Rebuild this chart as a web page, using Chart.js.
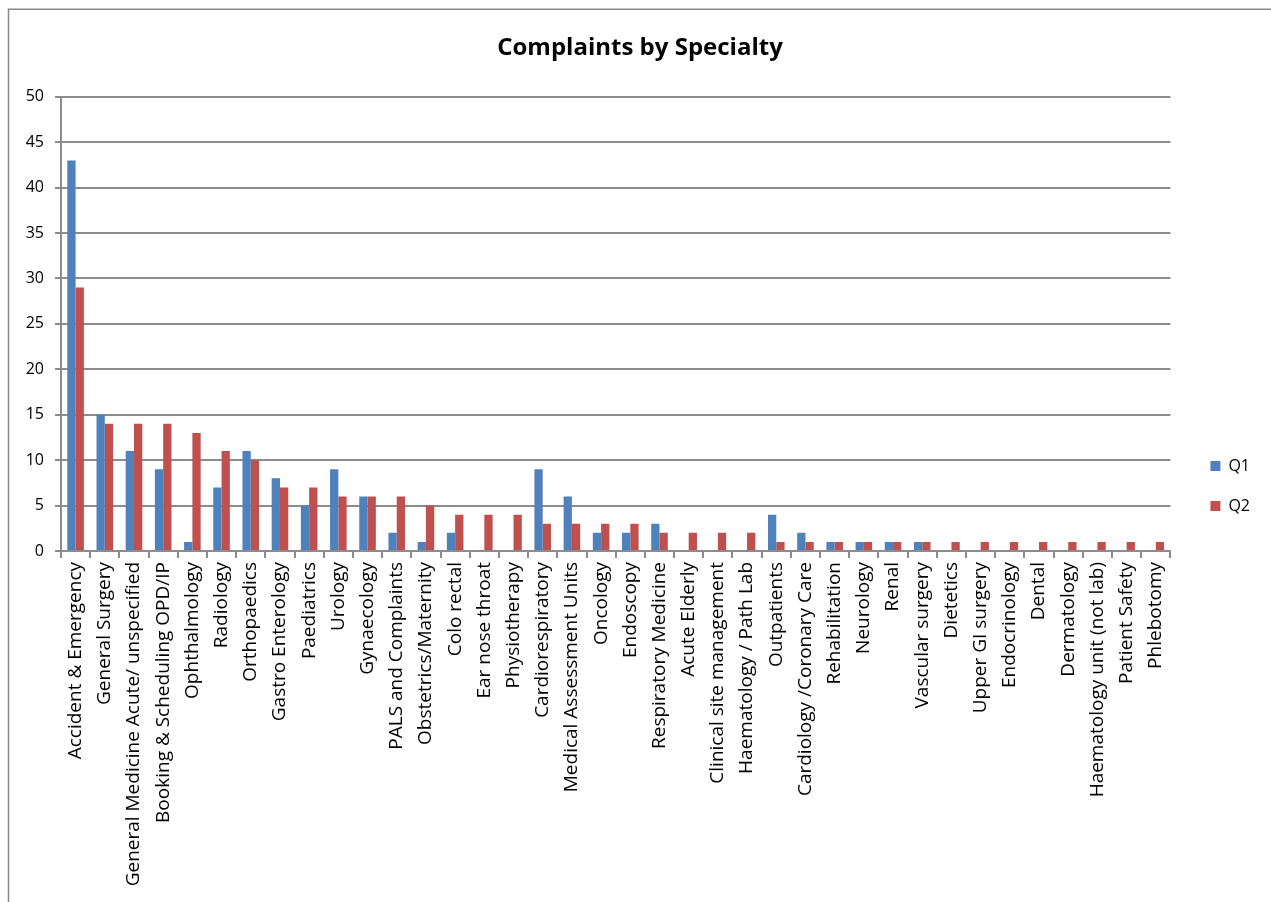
<!DOCTYPE html>
<html>
<head>
<meta charset="utf-8">
<script src="https://cdn.jsdelivr.net/npm/chart.js@4.4.1/dist/chart.umd.min.js"></script>
<style>
  html, body { margin: 0; padding: 0; background: #ffffff; overflow: hidden; }
  #wrap { width: 1271px; height: 902px; }
</style>
</head>
<body>
<div id="wrap"><canvas id="c" width="1271" height="902"></canvas></div>
<script>
const categories = [
  "Accident & Emergency", "General Surgery", "General Medicine Acute/ unspecified",
  "Booking & Scheduling OPD/IP", "Ophthalmology", "Radiology", "Orthopaedics",
  "Gastro Enterology", "Paediatrics", "Urology", "Gynaecology", "PALS and Complaints",
  "Obstetrics/Maternity", "Colo rectal", "Ear nose throat", "Physiotherapy",
  "Cardiorespiratory", "Medical Assessment Units", "Oncology", "Endoscopy",
  "Respiratory Medicine", "Acute Elderly", "Clinical site management",
  "Haematology / Path Lab", "Outpatients", "Cardiology /Coronary Care",
  "Rehabilitation", "Neurology", "Renal", "Vascular surgery", "Dietetics",
  "Upper GI surgery", "Endocrinology", "Dental", "Dermatology",
  "Haematology unit (not lab)", "Patient Safety", "Phlebotomy"
];
const q1Values = [43, 15, 11, 9, 1, 7, 11, 8, 5, 9, 6, 2, 1, 2, 0, 0, 9, 6, 2, 2, 3, 0, 0, 0, 4, 2, 1, 1, 1, 1, 0, 0, 0, 0, 0, 0, 0, 0];
const q2Values = [29, 14, 14, 14, 13, 11, 10, 7, 7, 6, 6, 6, 5, 4, 4, 4, 3, 3, 3, 3, 2, 2, 2, 2, 1, 1, 1, 1, 1, 1, 1, 1, 1, 1, 1, 1, 1, 1];
const yTicks = [0, 5, 10, 15, 20, 25, 30, 35, 40, 45, 50];
const seriesNames = ["Q1", "Q2"];
const chartTitle = "Complaints by Specialty";

const FONT = "'Open Sans', 'DejaVu Sans', sans-serif";
const GRID = '#8c8c8c';

const framePlugin = {
  id: 'frame',
  afterDraw(chart) {
    const ctx = chart.ctx;
    ctx.save();
    ctx.strokeStyle = '#8a8a8a';
    ctx.lineWidth = 1.5;
    ctx.beginPath();
    ctx.moveTo(8.5, 902);
    ctx.lineTo(8.5, 9.25);
    ctx.lineTo(1271, 9.25);
    ctx.stroke();
    ctx.restore();
  }
};

new Chart(document.getElementById('c'), {
  type: 'bar',
  data: {
    labels: categories,
    datasets: [
      { label: seriesNames[0], data: q1Values, backgroundColor: '#4F81BD', borderWidth: 0,
        barPercentage: 1, categoryPercentage: 0.568 },
      { label: seriesNames[1], data: q2Values, backgroundColor: '#C0504D', borderWidth: 0,
        barPercentage: 1, categoryPercentage: 0.568 }
    ]
  },
  options: {
    responsive: false,
    animation: false,
    devicePixelRatio: 1,
    layout: { padding: { top: 10, left: 20, right: 11, bottom: 0 } },
    plugins: {
      title: {
        display: true,
        text: chartTitle,
        color: '#000000',
        font: { family: FONT, size: 24, weight: 'bold', lineHeight: 1.2 },
        padding: { top: 24, bottom: 34 }
      },
      legend: {
        position: 'right',
        align: 'center',
        title: {
          display: true,
          text: '',
          font: { family: FONT, size: 10, lineHeight: 1 },
          padding: { top: 25, bottom: 25 }
        },
        labels: {
          boxWidth: 10,
          boxHeight: 10,
          padding: 24,
          color: '#000000',
          font: { family: FONT, size: 16 }
        }
      },
      tooltip: { enabled: false }
    },
    scales: {
      x: {
        offset: true,
        grid: { display: true, drawOnChartArea: false, offset: true, color: GRID, lineWidth: 2, tickLength: 7 },
        border: { display: true, color: GRID, width: 2 },
        ticks: {
          autoSkip: false, maxRotation: 90, minRotation: 90, padding: 4,
          color: '#000000', font: { family: FONT, size: 19 }
        },
        afterFit(s) { s.height = 351; }
      },
      y: {
        min: 0, max: 50,
        afterBuildTicks(s) { s.ticks = yTicks.map(v => ({ value: v })); },
        grid: { color: GRID, lineWidth: 2, tickLength: 6 },
        border: { display: true, color: GRID, width: 2 },
        ticks: { padding: 11, color: '#000000', font: { family: FONT, size: 16 } },
        afterFit(s) { s.width = 41; }
      },
      yPad: {
        position: 'right',
        display: true,
        grid: { display: false },
        border: { display: false },
        ticks: { display: false },
        afterFit(s) { s.width = 16; }
      }
    }
  },
  plugins: [framePlugin]
});
</script>
</body>
</html>
